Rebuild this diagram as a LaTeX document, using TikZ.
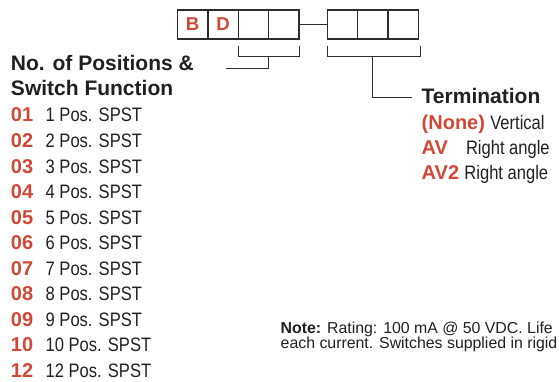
\documentclass[tikz,border=0pt]{standalone}
\usepackage{fontspec}
\setmainfont{Liberation Sans}
\newfontfamily\condfont[FakeStretch=0.85]{Liberation Sans}
\usetikzlibrary{positioning,calc}

\definecolor{ocred}{RGB}{210,72,54}
\definecolor{octext}{RGB}{35,31,32}
\definecolor{ocline}{RGB}{45,45,45}

\begin{document}
\begin{tikzpicture}[
  x=0.75pt,
  y=-0.75pt,
  every node/.style={inner sep=0pt, outer sep=0pt},
  ocHead/.style={font=\bfseries\fontsize{15.75}{18.75}\selectfont, text=octext, anchor=base west, align=left},
  ocCode/.style={font=\bfseries\fontsize{15}{18}\selectfont, text=ocred, anchor=base west},
  ocItem/.style={font=\condfont\fontsize{14.6}{17}\selectfont, text=octext, anchor=base west},
  ocNote/.style={font=\fontsize{11.9}{11.9}\selectfont, text=octext, anchor=base west},
  ocBox/.style={draw=ocline, line width=1pt, minimum width=22.8pt, minimum height=21.75pt,
    font=\bfseries\fontsize{14}{14}\selectfont, text=ocred},
  ocConn/.style={draw=ocline, line width=0.75pt}
]

  \path[use as bounding box] (0,0) rectangle (559,381);
  \clip (0,0) rectangle (559,381);

  % part number boxes
  \node[ocBox] (b1) at (192.7,24.5) {B};
  \node[ocBox, right=0pt of b1] (b2) {D};
  \node[ocBox, right=0pt of b2] (b3) {};
  \node[ocBox, right=0pt of b3] (b4) {};
  \node[ocBox] (t1) at (342.5,24.5) {};
  \node[ocBox, right=0pt of t1] (t2) {};
  \node[ocBox, right=0pt of t2] (t3) {};
  \draw[ocConn] (b4.east) -- (t1.west);

  % headings
  \node[ocHead] (posHead) at (11,96) {No. of Positions \&\\Switch Function};
  \node[ocHead] (termHead) at (421.7,103.5) {Termination};
  \coordinate (posTip) at (226,68.3);
  \coordinate (termTip) at (412,97.5);

  % brackets
  \draw[ocConn] ($(b3.south west)+(0,7)$) -- ++(0,10.7) -| ($(b4.south east)+(0,7)$);
  \draw[ocConn] ($(b3.south east)+(0,17.7)$) |- (posTip);
  \draw[ocConn] ($(t1.south west)+(0,7)$) -- ++(0,10.7) -| ($(t3.south east)+(1.5,7)$);
  \draw[ocConn] ($(t2.south)+(0,17.7)$) |- (termTip);

  % positions list
  \foreach \code/\num [count=\i] in {01/1,02/2,03/3,04/4,05/5,06/6,07/7,08/8,09/9,10/10,12/12}{
    \node[ocCode] (code\code) at (11,{122+25.5*(\i-1)}) {\code};
    \node[ocItem] (item\code) at (45.7,{122+25.5*(\i-1)}) {\num\ Pos. SPST};
  }

  % termination list
  \node[ocCode] (termNone) at (421.7,129) {(None)};
  \node[ocItem, right=4pt of termNone.base east, anchor=base west] (termVert) {Vertical};
  \node[ocCode] (termAV) at (421.7,154) {AV};
  \node[ocItem] (termAVtxt) at (466,154) {Right angle};
  \node[ocCode] (termAVt) at (421.7,179) {AV2};
  \node[ocItem, right=4pt of termAVt.base east, anchor=base west] (termAVttxt) {Right angle};

  % note
  \node[ocNote] (note1) at (280.7,333.3) {\textbf{Note:} Rating: 100 mA @ 50 VDC. Life};
  \node[ocNote] (note2) at (280.7,348.5) {each current. Switches supplied in rigid};

\end{tikzpicture}
\end{document}
